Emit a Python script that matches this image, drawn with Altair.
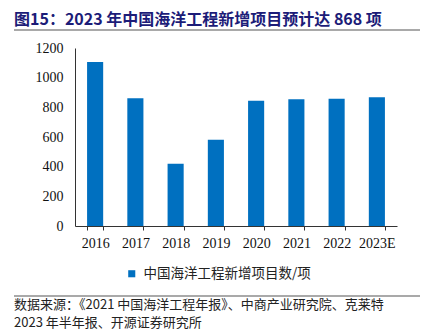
import altair as alt
import pandas as pd

years = ["2016", "2017", "2018", "2019", "2020", "2021", "2022", "2023E"]
values = [1105, 861, 420, 582, 844, 854, 858, 868]
series_name = "中国海洋工程新增项目数/项"
title_text = "图15：2023 年中国海洋工程新增项目预计达 868 项"
source_line1 = "数据来源：《2021 中国海洋工程年报》、中商产业研究院、克莱特"
source_line2 = "2023 年半年报、开源证券研究所"
y_ticks = [0, 200, 400, 600, 800, 1000, 1200]

CJK = "Noto Sans CJK SC"
SERIF = "Liberation Serif"
BLUE = "#0070C0"

df = pd.DataFrame({"year": years, "value": values, "s": [series_name] * len(years)})

bars = alt.Chart(df).mark_bar(color=BLUE).encode(
    x=alt.X("year:N", sort=years, title=None,
            scale=alt.Scale(paddingInner=0.6, paddingOuter=0.3),
            axis=alt.Axis(labelAngle=0, labelFont=SERIF, labelFontSize=14, labelColor="#111",
                          domainColor="#333", tickColor="#333", tickSize=4, tickBand="extent",
                          labelPadding=6)),
    y=alt.Y("value:Q", title=None,
            scale=alt.Scale(domain=[0, 1200], nice=False),
            axis=alt.Axis(values=y_ticks, format="d", grid=False, labelFont=SERIF, labelFontSize=14,
                          labelColor="#111", domainColor="#333", ticks=False, labelPadding=12)),
    color=alt.Color("s:N", scale=alt.Scale(range=[BLUE]),
                    legend=alt.Legend(orient="none", legendX=50, legendY=219, title=None,
                                      symbolType="square", symbolSize=50, symbolStrokeWidth=0,
                                      labelFont=CJK, labelFontSize=13.5, labelColor="#222",
                                      labelOffset=5, labelLimit=0)),
)

def text_layer(txt, x, y, size, color, weight="normal", font=CJK):
    return alt.Chart(pd.DataFrame({"t": [txt]})).mark_text(
        align="left", baseline="middle", font=font, fontSize=size, color=color, fontWeight=weight
    ).encode(text="t:N", x=alt.value(x), y=alt.value(y))

def hline(y, color):
    return alt.Chart(pd.DataFrame({"a": [0]})).mark_rule(color=color, strokeWidth=1.2).encode(
        x=alt.value(-61), x2=alt.value(345), y=alt.value(y))

title = text_layer(title_text, -61, -28, 16, "#1c1c78", weight="bold")
src1 = text_layer(source_line1, -61, 257, 13, "#222")
src2 = text_layer(source_line2, -61, 275, 13, "#222")

chart = alt.layer(bars, title, hline(-18, "#555"), hline(248, "#555"), src1, src2).properties(
    width=322, height=178,
    padding={"left": 75, "top": 48, "right": 30, "bottom": 106},
    autosize=alt.AutoSizeParams(type="none"),
).configure_view(stroke=None)

chart.save("out.html", embed_options={"renderer": "svg", "actions": False})
